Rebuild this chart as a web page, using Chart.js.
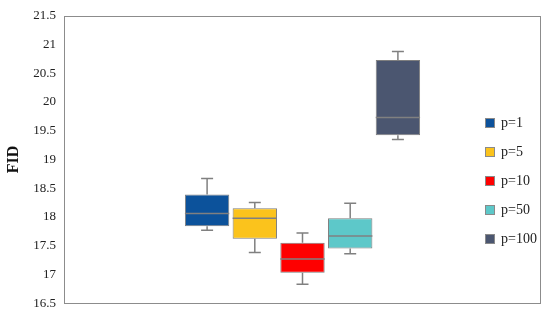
<!DOCTYPE html>
<html>
<head>
<meta charset="utf-8">
<script src="https://cdn.jsdelivr.net/npm/chart.js@4.4.1/dist/chart.umd.min.js"></script>
<style>
  body { margin: 0; background: #fff; }
  #wrap { position: relative; width: 550px; height: 319px; }
  #legend { position: absolute; left: 485px; top: 108px; font-family: "Liberation Serif", serif; font-size: 14px; color: #222; }
  #legend div { height: 29px; display: flex; align-items: center; }
  #legend span.sw { display: inline-block; width: 10px; height: 10px; margin-right: 6px; box-sizing: border-box; border: 1px solid #8a8a8a; }
</style>
</head>
<body>
<div id="wrap">
  <canvas id="chartFID" width="550" height="319"></canvas>
  <div id="legend"></div>
</div>
<script>
// box plot values
const seriesNames = ["p=1", "p=5", "p=10", "p=50", "p=100"];
const mins = [17.77, 17.38, 16.83, 17.36, 19.35];
const q1s = [17.84, 17.62, 17.03, 17.45, 19.42];
const medians = [18.06, 17.98, 17.27, 17.67, 19.73];
const q3s = [18.39, 18.15, 17.55, 17.98, 20.73];
const maxs = [18.67, 18.25, 17.72, 18.24, 20.88];
const colors = ["#0c529b", "#fbc31c", "#fe0000", "#5dc8c9", "#4b5670"];

const lineGray = "#808080";

// frame round the plot area
const framePlugin = {
  id: "frame",
  beforeDatasetsDraw(chart) {
    const a = chart.chartArea, ctx = chart.ctx;
    ctx.save();
    ctx.strokeStyle = "#8c8c8c";
    ctx.lineWidth = 1;
    ctx.strokeRect(Math.round(a.left) + 0.5, Math.round(a.top) + 0.5,
      Math.round(a.right - a.left) - 1, Math.round(a.bottom - a.top));
    ctx.restore();
  },
};

// whiskers and median lines, placed with the y scale
const whiskerPlugin = {
  id: "whiskers",
  afterDatasetsDraw(chart) {
    const ctx = chart.ctx, y = chart.scales.y;
    ctx.save();
    ctx.strokeStyle = lineGray;
    ctx.lineWidth = 1.5;
    chart.data.datasets.forEach((ds, i) => {
      const el = chart.getDatasetMeta(i).data[0];
      const x = el.x, half = el.width / 2;
      const yMin = y.getPixelForValue(mins[i]);
      const yQ1 = y.getPixelForValue(q1s[i]);
      const yMed = y.getPixelForValue(medians[i]);
      const yQ3 = y.getPixelForValue(q3s[i]);
      const yMax = y.getPixelForValue(maxs[i]);
      ctx.beginPath();
      ctx.moveTo(x, yQ3); ctx.lineTo(x, yMax);
      ctx.moveTo(x - 6, yMax); ctx.lineTo(x + 6, yMax);
      ctx.moveTo(x, yQ1); ctx.lineTo(x, yMin);
      ctx.moveTo(x - 6, yMin); ctx.lineTo(x + 6, yMin);
      ctx.stroke();
      ctx.beginPath();
      ctx.moveTo(x - half, yMed); ctx.lineTo(x + half, yMed);
      ctx.stroke();
    });
    ctx.restore();
  },
};

const datasets = seriesNames.map((name, i) => ({
  label: name,
  data: [[q1s[i], q3s[i]]],
  backgroundColor: colors[i],
  borderColor: "#7f7f7f",
  borderWidth: 1,
  borderSkipped: false,
  categoryPercentage: 0.5,
  barPercentage: 0.93,
}));

const ctx = document.getElementById("chartFID").getContext("2d");
const chart = new Chart(ctx, {
  type: "bar",
  data: { labels: [""], datasets: datasets },
  options: {
    responsive: false,
    animation: false,
    layout: { padding: { top: 14, right: 9, bottom: 14, left: 0 } },
    plugins: {
      legend: { display: false },
      tooltip: { enabled: false },
    },
    scales: {
      x: { display: false },
      y: {
        min: 16.5,
        max: 21.5,
        grid: { display: false, drawTicks: false },
        border: { display: false },
        ticks: {
          stepSize: 0.5,
          padding: 8,
          color: "#222",
          font: { family: "Liberation Serif", size: 13 },
          callback: (v) => String(Math.round(v * 10) / 10),
        },
        title: {
          display: true,
          text: "FID",
          color: "#111",
          padding: { top: 4, bottom: 0 },
          font: { family: "Liberation Serif", size: 16, weight: "bold" },
        },
        afterFit(scale) {
          scale.width = 64;
        },
      },
    },
  },
  plugins: [framePlugin, whiskerPlugin],
});

// legend
let temp = "";
seriesNames.forEach((name, i) => {
  temp += `<div><span class="sw" style="background:${colors[i]}"></span>${name}</div>`;
});
document.getElementById("legend").innerHTML = temp;
</script>
</body>
</html>
